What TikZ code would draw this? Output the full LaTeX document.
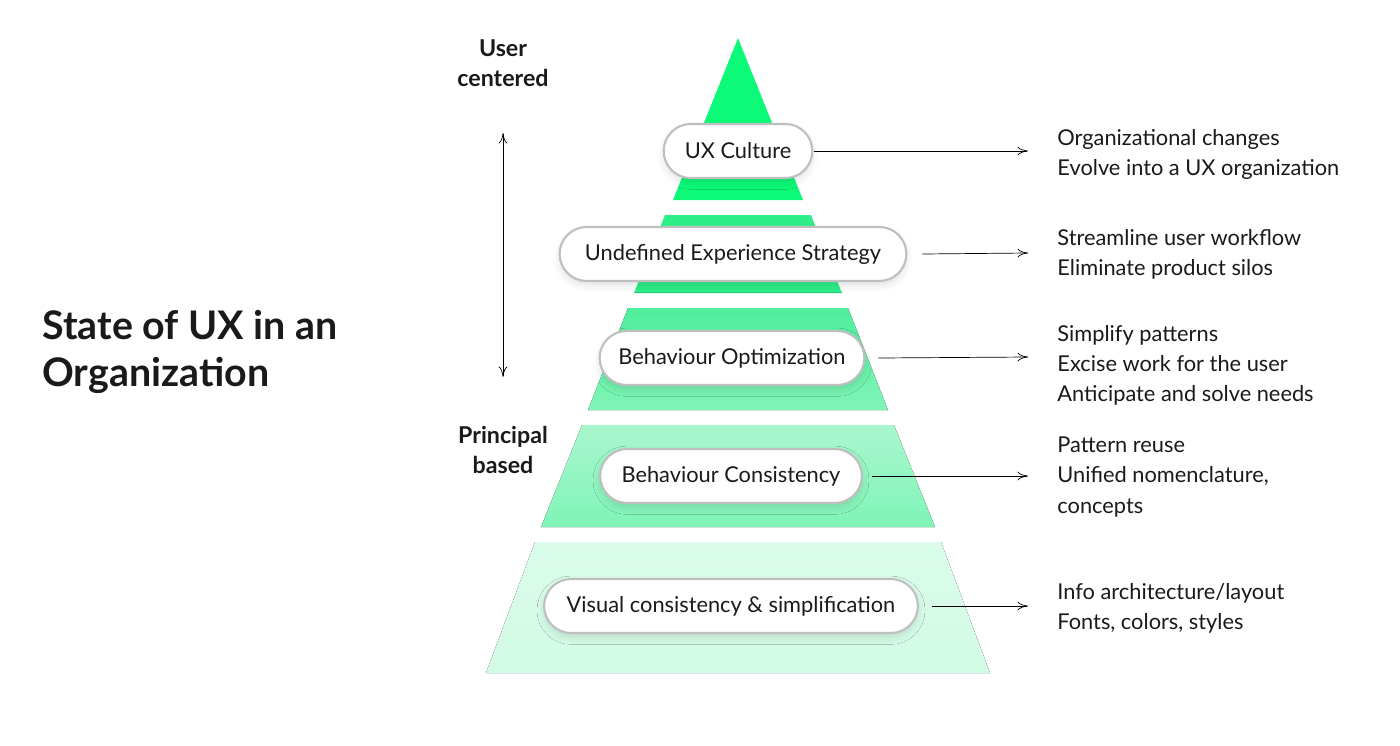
\documentclass[tikz,border=0pt]{standalone}
\usepackage{fontspec}
\setmainfont{Lato}
\usetikzlibrary{positioning, arrows.meta, shapes.misc, shadows.blur}
\definecolor{gA}{HTML}{0CFA78}
\definecolor{gB}{HTML}{2EEE88}
\definecolor{gC}{HTML}{4FEE9C}
\definecolor{gD}{HTML}{7FF4B6}
\definecolor{gE}{HTML}{A9F7CE}
\definecolor{gF}{HTML}{D2FBE5}
\definecolor{txt}{HTML}{1A1A1A}

\begin{document}
\begin{tikzpicture}[
    x = 0.01cm, y = -0.01cm, > = latex,
    level/.style = {rounded rectangle, draw = black!25, fill = white, semithick, minimum height = 0.54cm,
                    blur shadow = {shadow blur steps = 6, shadow xshift = 0pt, shadow yshift = -1.2pt, shadow opacity = 12},
                    font = \fontsize{6.2}{7}\selectfont, text = txt},
    note/.style = {anchor = west, align = left, font = \fontsize{6.2}{8.55}\selectfont, text = txt},
    side/.style = {align = center, font = \bfseries\fontsize{6.6}{8.55}\selectfont, text = txt},
    path/.style = {->, very thin, > = {To[length=3pt, width=2.5pt]}},
    ]
    \useasboundingbox (0,0) rectangle (1400,745);

    % pyramid bands
    \fill [gA] (738,38) -- (803,200) -- (673,200) -- cycle;
    \fill [gB] (665,215) -- (811,215) -- (842,293) -- (634,293) -- cycle;
    \fill [top color = gC, bottom color = gD] (628,308) -- (848,308) -- (888,410) -- (588,410) -- cycle;
    \fill [top color = gE, bottom color = gD] (582,425) -- (894,425) -- (935,527) -- (541,527) -- cycle;
    \fill [top color = gF!80!white, bottom color = gF] (535,542) -- (941,542) -- (990,673) -- (486,673) -- cycle;

    % levels
    \node [level, minimum width = 1.72cm] (culture)   at (738,151) {UX Culture};
    \node [level, minimum width = 3.70cm] (strategy)  at (733,254) {Undefined Experience Strategy};
    \node [level, minimum width = 2.88cm] (optim)     at (732,358) {Behaviour Optimization};
    \node [level, minimum width = 2.85cm] (consist)   at (731,476) {Behaviour Consistency};
    \node [level, minimum width = 3.97cm] (visual)    at (731,606) {Visual consistency \& simplification};

    % notes
    \node [note] (n_culture)  at (1045,154) {Organizational changes\\Evolve into a UX organization};
    \node [note] (n_strategy) at (1045,254) {Streamline user workflow\\Eliminate product silos};
    \node [note] (n_optim)    at (1045,365) {Simplify patterns\\Excise work for the user\\Anticipate and solve needs};
    \node [note] (n_consist)  at (1045,477) {Pattern reuse\\Unified nomenclature,\\concepts};
    \node [note] (n_visual)   at (1045,608) {Info architecture/layout\\Fonts, colors, styles};

    \coordinate (e_culture)  at (1028,151);
    \coordinate (e_strategy) at (1028,253);
    \coordinate (e_optim)    at (1028,357);
    \coordinate (e_consist)  at (1028,476);
    \coordinate (e_visual)   at (1028,606);

    % draw paths
    \draw [path] (culture.east)  ++(1,0)  -- (e_culture);
    \draw [path] (strategy.east) ++(15,0) -- (e_strategy);
    \draw [path] (optim.east)    ++(13,0) -- (e_optim);
    \draw [path] (consist.east)  ++(9,0)  -- (e_consist);
    \draw [path] (visual.east)   ++(13,0) -- (e_visual);

    % side labels
    \node [side] (user)      at (503,63)  {User\\centered};
    \node [side] (principal) at (503,450) {Principal\\based};
    \coordinate (scale_top) at (503,133);
    \coordinate (scale_bot) at (503,377);
    \draw [path, <->] (scale_top) -- (scale_bot);

    \node [anchor = west, align = left, font = \bfseries\fontsize{11.2}{13.6}\selectfont, text = txt] (title) at (30,352)
        {State of UX in an\\Organization};
\end{tikzpicture}
\end{document}
